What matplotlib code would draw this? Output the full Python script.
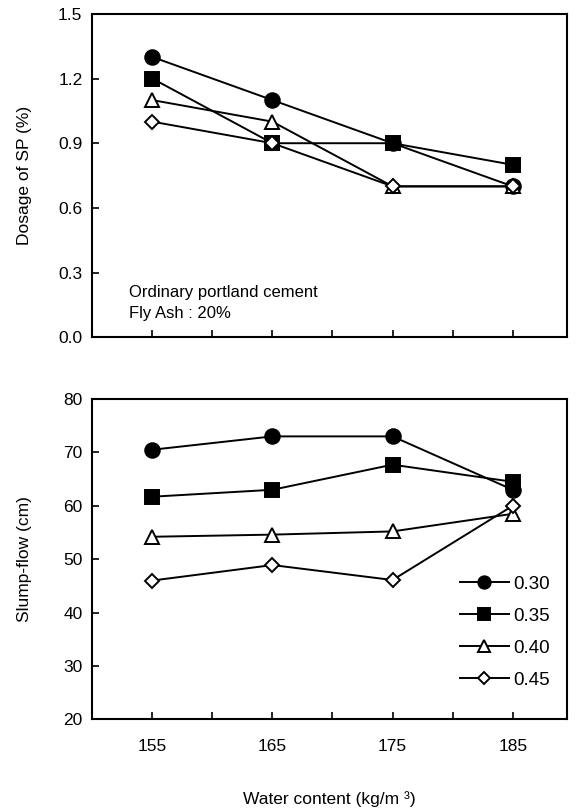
import numpy as np
import matplotlib
matplotlib.use("Agg")
import matplotlib.pyplot as plt

plt.rcParams['font.family'] = ['Liberation Sans', 'DejaVu Sans']

water = [155, 165, 175, 185]
wb_labels = ["0.30", "0.35", "0.40", "0.45"]

# dosage of SP (%)
sp_030 = [1.3, 1.1, 0.9, 0.7]
sp_035 = [1.2, 0.9, 0.9, 0.8]
sp_040 = [1.1, 1.0, 0.7, 0.7]
sp_045 = [1.0, 0.9, 0.7, 0.7]

# slump-flow (cm)
sf_030 = [70.5, 73.0, 73.0, 63.0]
sf_035 = [61.7, 63.0, 67.7, 64.5]
sf_040 = [54.2, 54.6, 55.2, 58.5]
sf_045 = [46.0, 48.9, 46.1, 60.0]

styles = [
    dict(marker='o', mfc='black', ms=10.5),
    dict(marker='s', mfc='black', ms=10),
    dict(marker='^', mfc='white', ms=10),
    dict(marker='D', mfc='white', ms=7.5),
]

fig = plt.figure(figsize=(5.76, 8.11), dpi=100)
ax1 = fig.add_axes([0.16, 0.584, 0.824, 0.399])
ax2 = fig.add_axes([0.16, 0.113, 0.824, 0.395])

for data, st in zip([sp_030, sp_035, sp_040, sp_045], styles):
    ax1.plot(water, data, color='black', lw=1.4, mec='black', mew=1.4, **st)

for data, st, lab in zip([sf_030, sf_035, sf_040, sf_045], styles, wb_labels):
    ax2.plot(water, data, color='black', lw=1.4, mec='black', mew=1.4, label=lab, **st)

for ax in (ax1, ax2):
    ax.set_xlim(150, 189.5)
    ax.set_xticks([155, 165, 175, 185])
    ax.set_xticks([160, 170, 180], minor=True)
    ax.tick_params(direction='in', length=5, width=1.2, labelsize=12.5)
    ax.tick_params(which='minor', direction='in', length=5, width=1.2)
    ax.tick_params(axis='x', pad=14)
    ax.tick_params(axis='y', pad=7)
    for sp in ax.spines.values():
        sp.set_linewidth(1.5)

ax1.set_ylim(0, 1.5)
ax1.set_yticks(np.arange(0, 1.51, 0.3))
ax1.set_yticklabels(["%.1f" % v for v in np.arange(0, 1.51, 0.3)])
ax1.tick_params(axis='x', labelbottom=False)
ax1.set_ylabel("Dosage of SP (%)", fontsize=12.5)
ax1.yaxis.set_label_coords(-0.126, 0.5)
ax1.text(153.1, 0.209, "Ordinary portland cement", fontsize=12, va='center')
ax1.text(153.1, 0.112, "Fly Ash : 20%", fontsize=12, va='center')

ax2.set_ylim(20, 80)
ax2.set_yticks(range(20, 81, 10))
ax2.set_ylabel("Slump-flow (cm)", fontsize=12.5)
ax2.yaxis.set_label_coords(-0.126, 0.5)
ax2.set_xlabel("Water content (kg/m \u00b3)", fontsize=12.5)
ax2.xaxis.set_label_coords(0.5, -0.225)
ax2.legend(loc='lower right', bbox_to_anchor=(1.0, 0.042), frameon=False,
           fontsize=13.5, handlelength=2.6, handletextpad=0.25, labelspacing=0.8,
           markerscale=0.85)

fig.savefig("out.png", dpi=100)
